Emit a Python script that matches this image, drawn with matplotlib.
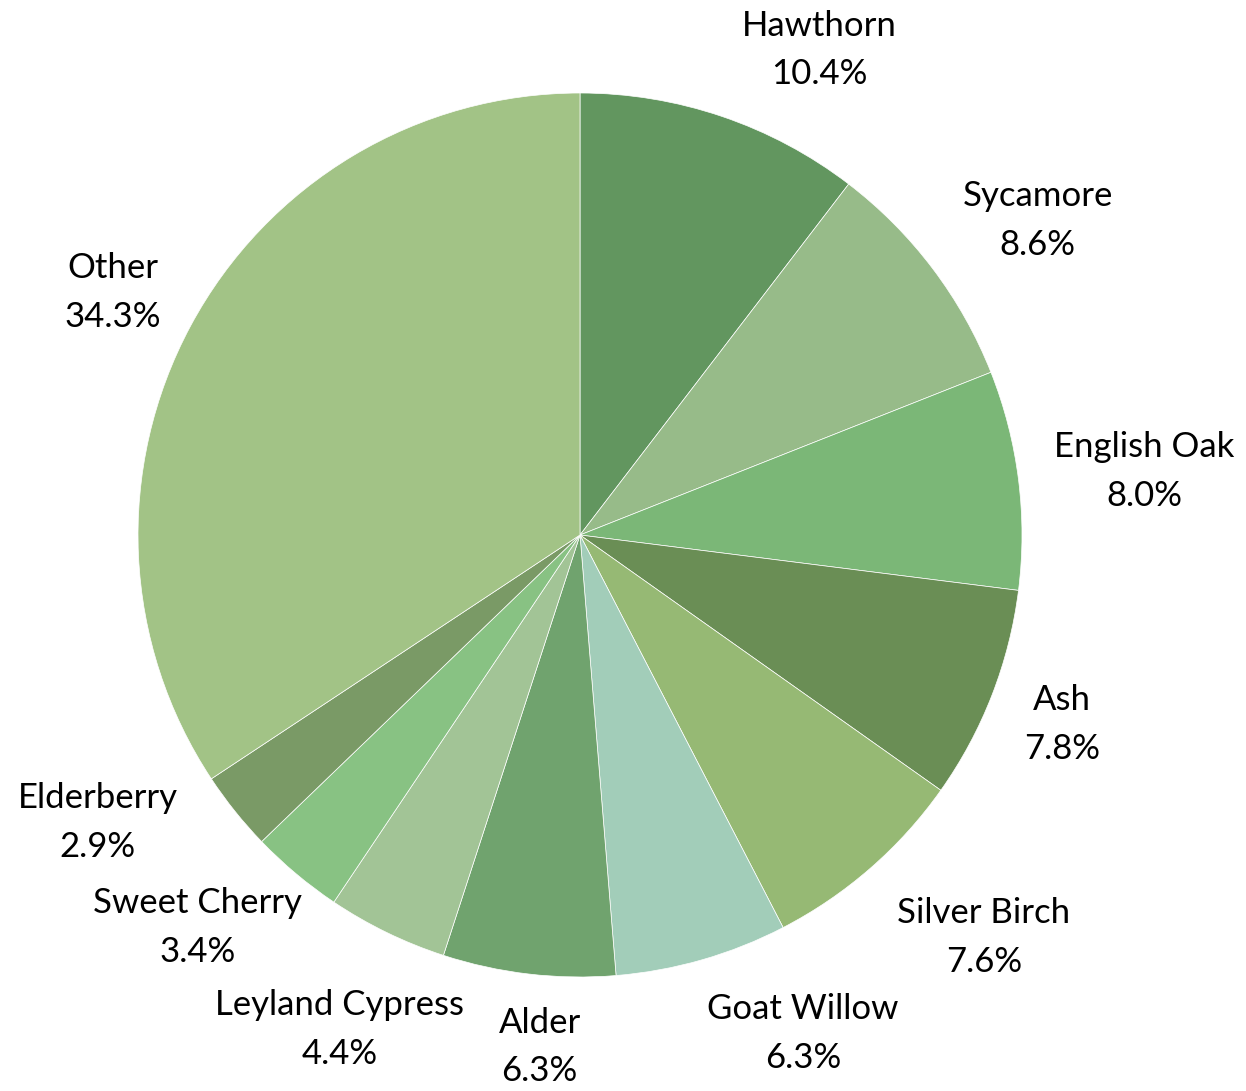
import matplotlib
matplotlib.use("Agg")
import matplotlib.pyplot as plt
import numpy as np

labels = ["Hawthorn", "Sycamore", "English Oak", "Ash", "Silver Birch", "Goat Willow",
          "Alder", "Leyland Cypress", "Sweet Cherry", "Elderberry", "Other"]
values = [10.4, 8.6, 8.0, 7.8, 7.6, 6.3, 6.3, 4.4, 3.4, 2.9, 34.3]
colors = ["#62965F", "#97BB89", "#7BB777", "#6A8E55", "#96B974", "#A2CDB9",
          "#70A36E", "#A2C496", "#88C283", "#7A9A66", "#A2C386"]

# label placement: (angle clockwise from top in degrees, radius factor)
label_polar = [(26.3, 1.224), (55.5, 1.256), (83.6, 1.285), (111.5, 1.172),
               (134.9, 1.29), (155.9, 1.235), (184.5, 1.162), (205.9, 1.244),
               (224.3, 1.24), (239.2, 1.27), (297.4, 1.19)]

W, H = 1246, 1091
fig = plt.figure(figsize=(W / 100, H / 100), dpi=100)
ax = fig.add_axes([0, 0, 1, 1])

cx, cy, R = 580, H - 535, 442
ax.pie(values, colors=colors, startangle=90, counterclock=False,
       center=(cx, cy), radius=R, frame=True,
       wedgeprops=dict(edgecolor="white", linewidth=0.5))
ax.set_xlim(0, W)
ax.set_ylim(0, H)
ax.set_aspect("equal")
ax.axis("off")

for lab, v, (ang, rf) in zip(labels, values, label_polar):
    a = np.deg2rad(ang)
    x = cx + R * rf * np.sin(a)
    y = cy + R * rf * np.cos(a)
    ax.text(x, y, f"{lab}\n{v:.1f}%", ha="center", va="center",
            fontsize=25, family="Lato", color="black", linespacing=1.65)

fig.savefig("out.png", dpi=100)
